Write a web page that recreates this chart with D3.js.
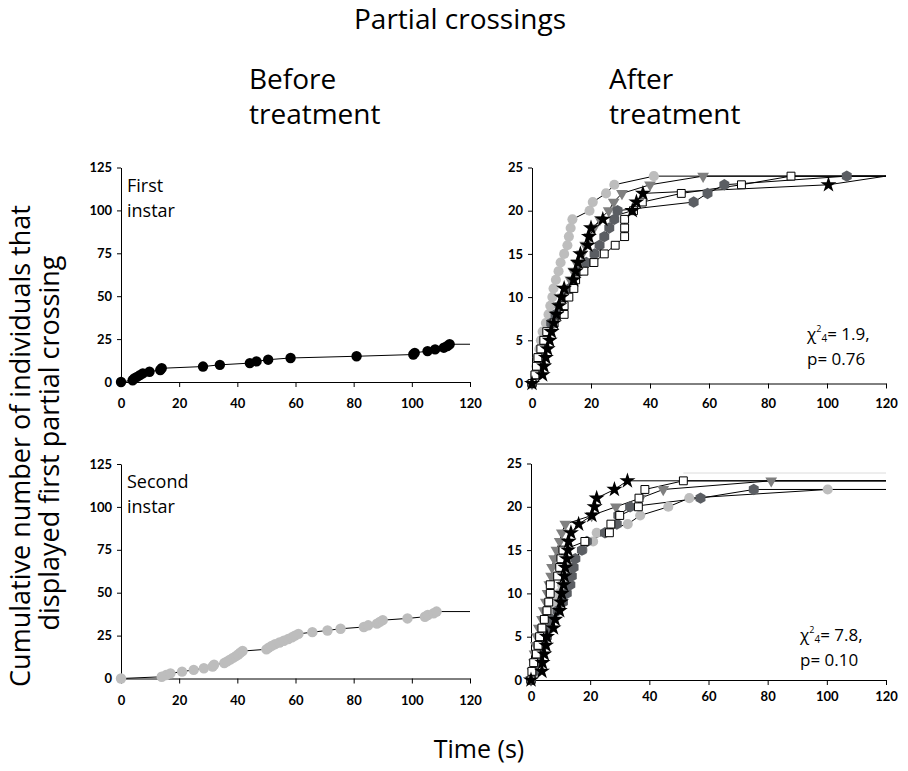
<!DOCTYPE html>
<html>
<head>
<meta charset="utf-8">
<script src="https://cdn.jsdelivr.net/npm/d3@7"></script>
<style>
  body { margin: 0; background: #fff; }
  svg text { font-family: "Open Sans", sans-serif; }
  .tick text { font-family: "Lato", sans-serif; font-weight: bold; font-size: 13px; }
</style>
</head>
<body>
<svg id="chart" width="908" height="771"></svg>
<script>
// ---- data ----
const xTicks = [0, 20, 40, 60, 80, 100, 120];
const yTicksBefore = [0, 25, 50, 75, 100, 125];
const yTicksAfter = [0, 5, 10, 15, 20, 25];

const counts22 = [0,1,2,3,4,5,6,7,8,9,10,11,12,13,14,15,16,17,18,19,20,21,22];
const counts23 = [0,1,2,3,4,5,6,7,8,9,10,11,12,13,14,15,16,17,18,19,20,21,22,23];
const counts24 = [0,1,2,3,4,5,6,7,8,9,10,11,12,13,14,15,16,17,18,19,20,21,22,23,24];
const counts39 = [0,1,2,3,4,5,6,7,8,9,10,11,12,13,14,15,16,17,18,19,20,21,22,23,24,25,26,27,28,29,30,31,32,33,34,35,36,37,38,39];

// before treatment
const before1Times = [0, 4, 4.5, 5.5, 6.5, 7.5, 9.8, 13.5, 14, 28.2, 34, 44.3, 46.6, 50.6, 58.3, 81, 100.5, 101, 105.4, 108, 111, 112.2, 113];
const before2Times = [0, 14, 15.5, 17, 21, 25, 28.5, 31.5, 32, 35.5, 36.5, 37.5, 38.5, 39.5, 40.3, 41, 41.8, 50, 50.8, 51.8, 53, 54.5, 56, 57.5, 58.8, 59.8, 61, 65.8, 71, 75.5, 83.5, 85, 88, 89, 90, 98.5, 104.5, 105.5, 107.5, 108.5];

// after treatment, first instar
const a1Circle = [0, 1.0, 1.5, 2.0, 2.5, 3.0, 3.6, 4.7, 5.6, 6.2, 6.9, 7.3, 8.1, 9.0, 9.7, 10.9, 12.0, 12.5, 13.1, 13.7, 19.5, 20.6, 25.1, 27.9, 41.3];
const a1Triangle = [0, 1.5, 2.5, 3, 4, 5, 6, 7, 8, 9, 10.5, 12, 13, 14, 15, 17, 18, 19.5, 21, 23, 26, 27.7, 30.5, 40, 58];
const a1Hexagon = [0, 1.5, 2, 3, 3.5, 4.5, 5.5, 6.5, 8, 9.4, 11, 12.8, 14.5, 16.1, 18.4, 21.2, 22.9, 24.5, 26.2, 27.9, 29, 54.8, 59.5, 65.2, 106.7];
const a1Square = [0, 1, 1.5, 2, 3, 4, 5, 7.5, 10.9, 10.9, 12.5, 14.2, 14.8, 17.6, 21, 24.5, 28.2, 31.4, 31.4, 31.4, 34.4, 37.4, 50.6, 71, 87.8];
const a1Star = [0, 3.6, 4.1, 4.7, 5.3, 6, 6.6, 7.4, 8.3, 9.2, 10, 10.9, 14.1, 14.8, 15.6, 16.4, 18.9, 19.3, 20, 24, 34, 35.4, 37.6, 100.5];
const a1End = [24, 24, 24, 24, 24];

// after treatment, second instar
const a2Circle = [0, 1, 2, 2.5, 3, 3.5, 4.5, 5.5, 6.5, 8, 9.5, 10.5, 12, 13, 14.5, 17.5, 21, 22.2, 32.7, 36.9, 46.4, 53.5, 100.3];
const a2Triangle = [0, 0.5, 1, 1.2, 1.6, 2, 2.6, 3.7, 4.3, 5, 5.6, 6.2, 6.8, 7.1, 7.8, 8.6, 9.7, 10.4, 11.6, 20.5, 28.7, 37, 44.7, 81.2];
const a2Hexagon = [0, 1, 2, 3, 4.3, 5.4, 6.5, 7.1, 9, 10.8, 12.1, 13.3, 13.8, 14.4, 15, 17.2, 18.9, 25, 29, 29.5, 33.5, 57.3, 75.3];
const a2Square = [0, 0.3, 0.9, 1.8, 2.4, 2.9, 3.7, 4.5, 5.4, 6, 6.5, 6.5, 9, 9.7, 10.1, 10.8, 18.2, 26.5, 27, 30, 36.3, 36.5, 38.5, 51.5];
const a2Star = [0, 3.7, 3.9, 4.5, 5.1, 5.4, 7.6, 8.2, 9.7, 10.1, 10.4, 11, 11.3, 11.6, 12.1, 12.5, 12.7, 13.5, 16.1, 20.6, 21.5, 22.2, 28.2, 32.6];
const a2End = [22, 23, 22, 23, 23];
// faint grey guide seen in the second-instar panel
const a2FaintTimes = [51.5, 120];
const a2FaintCounts = [23.9, 23.9];

const markerKinds = ["circle", "triangle", "hexagon", "square", "star"];

// ---- drawing ----
const svg = d3.select("#chart");

const hexagon = {
  draw(ctx, size) {
    const r = Math.sqrt(size / 2.598);
    for (let i = 0; i < 6; i++) {
      const a = Math.PI / 6 + i * Math.PI / 3;
      if (i === 0) ctx.moveTo(r * Math.cos(a), r * Math.sin(a));
      else ctx.lineTo(r * Math.cos(a), r * Math.sin(a));
    }
    ctx.closePath();
  }
};

const markerStyle = {
  circle:   { type: d3.symbolCircle, size: 80, fill: "#bdbdbd", stroke: "none", rot: 0 },
  triangle: { type: d3.symbolTriangle, size: 60, fill: "#808080", stroke: "none", rot: 180 },
  hexagon:  { type: hexagon, size: 85, fill: "#5b5e63", stroke: "none", rot: 0 },
  square:   { type: d3.symbolSquare, size: 62, fill: "#fff", stroke: "#000", rot: 0 },
  star:     { type: d3.symbolStar, size: 80, fill: "#000", stroke: "none", rot: 0 }
};

function panel(p) {
  const x = d3.scaleLinear().domain([0, 120]).range([p.x0, p.x1]);
  const y = d3.scaleLinear().domain([0, p.yMax]).range([p.yBottom, p.yTop]);
  const g = svg.append("g");

  g.append("g")
    .attr("transform", `translate(0,${p.yBottom})`)
    .call(d3.axisBottom(x).tickValues(xTicks).tickSize(5).tickPadding(p.xPad).tickSizeOuter(0))
    .call(a => a.select(".domain").attr("stroke", "#000"));
  g.append("g")
    .attr("transform", `translate(${p.x0},0)`)
    .call(d3.axisLeft(y).tickValues(p.yTicks).tickSize(4).tickPadding(5).tickSizeOuter(0))
    .call(a => a.select(".domain").attr("stroke", "#000"));

  const line = d3.line().x(d => x(d[0])).y(d => y(d[1]));

  if (p.faint) {
    g.append("path")
      .attr("d", line(p.faint.times.map((t, i) => [t, p.faint.counts[i]])))
      .attr("fill", "none").attr("stroke", "#dcdcdc").attr("stroke-width", 1);
  }

  p.series.forEach(s => {
    const pts = s.times.map((t, i) => [t, s.counts[i]]);
    g.append("path")
      .attr("d", line(pts.concat([[120, s.end]])))
      .attr("fill", "none")
      .attr("stroke", "#000")
      .attr("stroke-width", 1);
  });

  p.series.forEach(s => {
    const st = s.style;
    const sym = d3.symbol().type(st.type).size(st.size);
    g.append("g").selectAll("path")
      .data(s.times.map((t, i) => [t, s.counts[i]]))
      .join("path")
      .attr("transform", d => `translate(${x(d[0])},${y(d[1])}) rotate(${st.rot})`)
      .attr("d", sym)
      .attr("fill", st.fill)
      .attr("stroke", st.stroke)
      .attr("stroke-width", 1);
  });
  return g;
}

const beforeStyle1 = { type: d3.symbolCircle, size: 85, fill: "#000", stroke: "none", rot: 0 };
const beforeStyle2 = { type: d3.symbolCircle, size: 85, fill: "#bdbdbd", stroke: "none", rot: 0 };

const afterSeries = (times, ends) => times.map((t, i) => ({
  times: t,
  counts: t.length === 25 ? counts24 : (t.length === 24 ? counts23 : counts22),
  end: ends[i],
  style: markerStyle[markerKinds[i]]
}));

panel({ x0: 121, x1: 470, yTop: 167.5, yBottom: 382, yMax: 125, yTicks: yTicksBefore, xPad: 12,
  series: [{ times: before1Times, counts: counts22, end: 22, style: beforeStyle1 }] });
panel({ x0: 532, x1: 886, yTop: 167.5, yBottom: 383.5, yMax: 25, yTicks: yTicksAfter, xPad: 10,
  series: afterSeries([a1Circle, a1Triangle, a1Hexagon, a1Square, a1Star], a1End) });
panel({ x0: 121, x1: 470, yTop: 464, yBottom: 678.5, yMax: 125, yTicks: yTicksBefore, xPad: 12,
  series: [{ times: before2Times, counts: counts39, end: 39, style: beforeStyle2 }] });
panel({ x0: 531, x1: 886, yTop: 463.5, yBottom: 680, yMax: 25, yTicks: yTicksAfter, xPad: 7,
  faint: { times: a2FaintTimes, counts: a2FaintCounts },
  series: afterSeries([a2Circle, a2Triangle, a2Hexagon, a2Square, a2Star], a2End) });

// ---- text ----
function label(txt, x, y, size, anchor) {
  return svg.append("text").attr("x", x).attr("y", y)
    .attr("font-size", size).attr("text-anchor", anchor || "start")
    .attr("fill", "#000").text(txt);
}

label("Partial crossings", 460, 29, 28, "middle");
label("Before", 249, 89, 28);
label("treatment", 249, 124, 28);
label("After", 609, 89, 28);
label("treatment", 609, 124, 28);
label("First", 127, 192, 18);
label("instar", 127, 217, 18);
label("Second", 127, 488, 18);
label("instar", 127, 513, 18);
label("Time (s)", 479, 758, 25, "middle");

svg.append("text")
  .attr("transform", "translate(30,446) rotate(-90)")
  .attr("text-anchor", "middle").attr("font-size", 27)
  .text("Cumulative number of individuals that");
svg.append("text")
  .attr("transform", "translate(59,443) rotate(-90)")
  .attr("text-anchor", "middle").attr("font-size", 27)
  .text("displayed first partial crossing");

// chi-square line: one text, super/subscript as tspans side by side
function stats(x, y, chi, p) {
  const t = svg.append("text").attr("x", x).attr("y", y).attr("font-size", 17);
  t.append("tspan").text("χ");
  t.append("tspan").attr("font-size", 9).attr("dy", -8).text("2");
  t.append("tspan").attr("font-size", 10).attr("dy", 10).text("4");
  t.append("tspan").attr("dy", -2).text("= " + chi + ",");
  label("p= " + p, x, y + 25, 17);
}
stats(807, 340, "1.9", "0.76");
stats(800, 641, "7.8", "0.10");
</script>
</body>
</html>
